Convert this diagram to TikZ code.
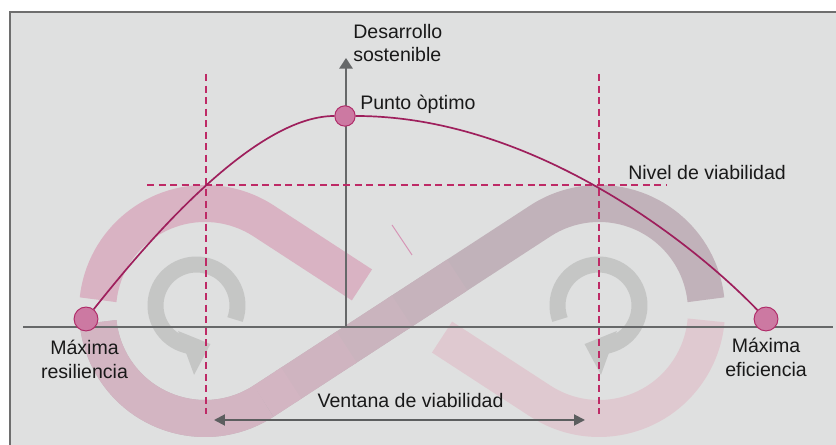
\documentclass[tikz,border=0pt]{standalone}
\usepackage{fontspec}
\setmainfont{Liberation Sans}
\usepackage{xcolor}
\usetikzlibrary{arrows.meta}
\usetikzlibrary{calc}
\definecolor{fondo}{HTML}{DFE0E0}
\definecolor{marco}{HTML}{6E6E6E}
\definecolor{eje}{HTML}{666869}
\definecolor{rosa}{HTML}{D9B3C3}
\definecolor{rosaclaro}{HTML}{DFC9D0}
\definecolor{malva}{HTML}{C1B2BA}
\definecolor{rosab}{HTML}{D3B5C2}
\definecolor{grisanillo}{HTML}{C5C6C5}
\definecolor{guion}{HTML}{BE2A66}
\definecolor{curva}{HTML}{9E1F5C}
\definecolor{rosapunto}{HTML}{CC79A2}
\definecolor{bordepunto}{HTML}{B02C69}
\tikzset{
	banda/.style={line width=26.3pt},
	giro/.style={grisanillo,line width=11.4pt,-{Triangle[length=18.5pt,width=32pt]}},
	guiones/.style={guion,line width=1.7pt,dash pattern=on 5pt off 3.2pt},
	nodopunto/.style={circle,draw=bordepunto,fill=rosapunto,line width=0.7pt,inner sep=0pt},
	texto/.style={font=\fontsize{13.9pt}{17pt}\selectfont,text=black!90,inner sep=0pt,align=center}
}
\begin{document}
\begin{tikzpicture}[x=0.025cm,y=0.025cm]
	\useasboundingbox (0,0) rectangle (836,445);
	\fill[white] (0,0) rectangle (836,445);
	\fill[fondo] (10,0) rectangle (836,433);
	\draw[marco,line width=1.4pt] (10,0) -- (10,433) -- (836,433);
	
	\coordinate (izq) at (205,134);
	\coordinate (der) at (599,134);
	\coordinate (cruce) at (402,134);
	\coordinate (t3) at ($(izq)+(303:107.5)$);
	\coordinate (t4) at ($(der)+(123:107.5)$);
	\draw[banda,rosa] ($(izq)+(174:107.5)$) arc[start angle=174,end angle=57,radius=107.5] -- ($(cruce)+(146.93:47.8)$);
	\draw[banda,rosaclaro] ($(cruce)+(-33.07:47.8)$) -- ($(der)+(237:107.5)$) arc[start angle=237,end angle=355,radius=107.5];
	\draw[banda,malva] ($(der)+(6:107.5)$) arc[start angle=6,end angle=123,radius=107.5] -- (t3) arc[start angle=303,end angle=186,radius=107.5];
	\foreach \a/\b/\p in {0.3/0.52/25,0.5/0.72/50,0.7/0.92/75,0.9/1/100}
		\draw[banda,rosab!\p!malva] ($(t4)!\a!(t3)$) -- ($(t4)!\b!(t3)$);
	\draw[banda,rosab] (t3) arc[start angle=303,end angle=186,radius=107.5];
	
	\draw[giro] ($(196.5,139.5)+(-20:41)$) arc[start angle=-20,end angle=290,radius=41];
	\draw[giro] ($(598.5,139.5)+(200:41)$) arc[start angle=200,end angle=-110,radius=41];
	
	\coordinate (origen) at (346,118);
	\draw[eje,line width=1.4pt] (23,118) -- (833,118);
	\draw[eje,line width=1.4pt,-{Triangle[length=7.6pt,width=9.5pt]}] (origen) -- (346,387);
	
	\draw[guiones] (147,260) -- (666,260);
	\draw[guiones] (206,371) -- (206,31);
	\draw[guiones] (599,371) -- (599,31);
	\draw[rosapunto!80,line width=0.7pt] (392,220) -- (412,190);
	
	\node[nodopunto,minimum size=17pt] (maxres) at (86,126) {};
	\node[nodopunto,minimum size=14.5pt] (optimo) at (345,329) {};
	\node[nodopunto,minimum size=17pt] (maxef) at (766,126) {};
	\draw[curva,line width=1.2pt] (maxres) .. controls (136,189) and (250,329) .. (optimo) .. controls (530,329) and (690,205) .. (maxef);
	
	\coordinate (vi) at (214,25);
	\coordinate (vd) at (585,25);
	\draw[eje!90!black,line width=1.4pt,{Triangle[length=7.8pt,width=7.8pt]}-{Triangle[length=7.8pt,width=7.8pt]}] (vi) -- (vd);
	
	\node[texto,anchor=west,align=left] (desarrollo) at (353,402) {Desarrollo\\sostenible};
	\node[texto,anchor=west] (optimotxt) at (360,341) {Punto òptimo};
	\node[texto,anchor=west] (nivel) at (628,272) {Nivel de viabilidad};
	\node[texto] (ventana) at (410.5,44) {Ventana de viabilidad};
	\node[texto] (resil) at (84.5,85.5) {Máxima\\resiliencia};
	\node[texto] (efic) at (766,88) {Máxima\\eficiencia};
\end{tikzpicture}
\end{document}
